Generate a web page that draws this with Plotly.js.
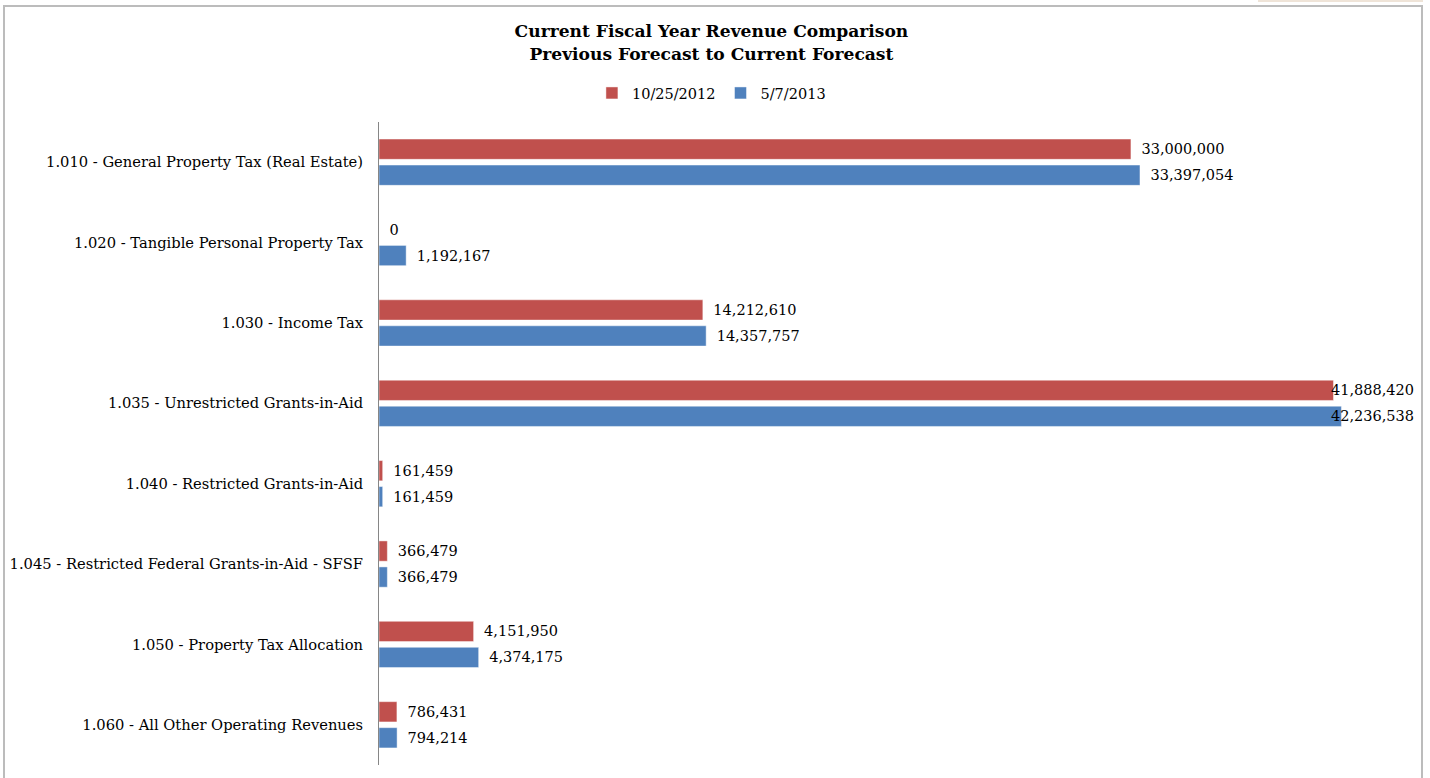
<!DOCTYPE html>
<html>
<head>
<meta charset="utf-8">
<script src="https://cdn.plot.ly/plotly-3.0.1.min.js"></script>
<style>
  html, body { margin: 0; padding: 0; background: #ffffff; overflow: hidden; }
  #chart { position: absolute; left: 0; top: 0; width: 1430px; height: 778px; }
  #frame { position: absolute; left: 3px; top: 5px; width: 1416px; height: 790px;
           border: 2px solid #bcbcbc; pointer-events: none; }
  #strip { position: absolute; left: 1258px; top: 0px; width: 165px; height: 2px;
           background: #efe4d8; pointer-events: none; }
</style>
</head>
<body>
<div id="chart"></div>
<div id="frame"></div>
<div id="strip"></div>
<script>
// ---- data ----
const categories = [
  "1.010 - General Property Tax (Real Estate)",
  "1.020 - Tangible Personal Property Tax",
  "1.030 - Income Tax",
  "1.035 - Unrestricted Grants-in-Aid",
  "1.040 - Restricted Grants-in-Aid",
  "1.045 - Restricted Federal Grants-in-Aid - SFSF",
  "1.050 - Property Tax Allocation",
  "1.060 - All Other Operating Revenues"
];
const seriesNames = ["10/25/2012", "5/7/2013"];
const previousForecast = [33000000, 0, 14212610, 41888420, 161459, 366479, 4151950, 786431];
const currentForecast  = [33397054, 1192167, 14357757, 42236538, 161459, 366479, 4374175, 794214];

const FONT = "DejaVu Serif, serif";
const X_MAX = 45730000;
const LABEL_SIZE = 14.5;

function fmt(v) { return v.toLocaleString("en-US"); }
// labels that would run past the plot edge are pulled back inside (as the original does)
function overflows(v) { return v > 0.88 * X_MAX; }

function barTrace(name, values, color) {
  return {
    type: "bar",
    orientation: "h",
    name: name,
    y: categories,
    x: values,
    marker: { color: color, line: { color: "rgba(255,255,255,0.45)", width: 1 } },
    text: values.map(v => overflows(v) ? "" : "\u00a0\u2009" + fmt(v)),
    texttemplate: "%{text}",
    textposition: "outside",
    constraintext: "none",
    cliponaxis: false,
    textfont: { family: FONT, size: LABEL_SIZE, color: "#000000" },
    hoverinfo: "x+name"
  };
}

const data = [
  barTrace(seriesNames[0], previousForecast, "#c0504d"),
  barTrace(seriesNames[1], currentForecast, "#4f81bd")
];

const annotations = [];
[previousForecast, currentForecast].forEach((vals, si) => {
  vals.forEach((v, i) => {
    if (overflows(v)) {
      annotations.push({
        xref: "x", yref: "y",
        x: X_MAX, y: categories[i],
        xanchor: "right", yanchor: "middle",
        xshift: -5, yshift: si === 0 ? 13 : -13,
        text: fmt(v), showarrow: false,
        font: { family: FONT, size: LABEL_SIZE, color: "#000000" }
      });
    }
  });
});

const layout = {
  width: 1430,
  height: 778,
  paper_bgcolor: "#ffffff",
  plot_bgcolor: "#ffffff",
  margin: { l: 379, r: 9, t: 122, b: 13, pad: 0 },
  barmode: "group",
  bargap: 0.353,
  bargroupgap: 0.22,
  font: { family: FONT, size: 14.7, color: "#000000" },
  title: {
    text: "<b>Current Fiscal Year Revenue Comparison<br>Previous Forecast to Current Forecast</b>",
    font: { family: FONT, size: 17.1, color: "#000000" },
    xref: "container", x: 0.4975, xanchor: "center",
    yref: "container", y: 0.952, yanchor: "top"
  },
  showlegend: true,
  legend: {
    orientation: "h",
    xref: "container", x: 0.4975, xanchor: "center",
    yref: "container", y: 0.901, yanchor: "top",
    font: { family: FONT, size: 14.5, color: "#000000" },
    itemwidth: 30,
    traceorder: "normal"
  },
  annotations: annotations,
  xaxis: {
    range: [0, X_MAX],
    showgrid: false,
    zeroline: false,
    showline: false,
    showticklabels: false,
    ticks: "",
    fixedrange: true
  },
  yaxis: {
    type: "category",
    autorange: "reversed",
    showgrid: false,
    zeroline: false,
    showline: true,
    linecolor: "#868686",
    linewidth: 1,
    ticks: "outside",
    ticklen: 12,
    tickcolor: "rgba(0,0,0,0)",
    tickfont: { family: FONT, size: 14.7, color: "#000000" },
    fixedrange: true
  }
};

Plotly.newPlot("chart", data, layout, { displayModeBar: false, staticPlot: true });
</script>
</body>
</html>
